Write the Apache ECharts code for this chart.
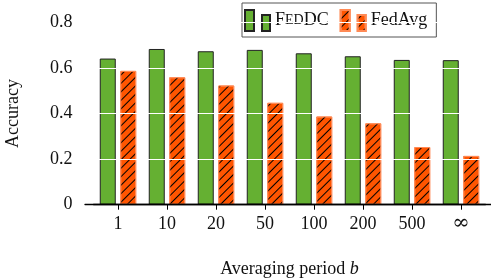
<!DOCTYPE html>
<html>
<head>
<meta charset="utf-8">
<script src="https://cdn.jsdelivr.net/npm/echarts@6/dist/echarts.min.js"></script>
<style>
  html, body { margin: 0; padding: 0; background: #fff; }
  #chart { width: 491px; height: 278px; }
</style>
</head>
<body>
<div id="chart"></div>
<script>
// averaging periods (x categories)
const periods = ['1', '10', '20', '50', '100', '200', '500', '∞'];
// accuracy per method
const feddc = [0.641, 0.683, 0.673, 0.679, 0.664, 0.651, 0.635, 0.634];
const fedavg = [0.587, 0.559, 0.523, 0.447, 0.387, 0.357, 0.253, 0.214];
const yTicks = [0, 0.2, 0.4, 0.6, 0.8];

const serif = 'Liberation Serif';
const green = '#65b032';
const orange = '#ff5500';

const chart = echarts.init(document.getElementById('chart'));

const option = {
  animation: false,
  textStyle: { fontFamily: serif },
  grid: [
    { left: 93.5, right: 5.5, top: 22.3, bottom: 73.3, outerBoundsMode: 'none' },
    // wider grid only used to draw the long x axis line
    { left: 85, right: 0, top: 22.3, bottom: 73.3, outerBoundsMode: 'none' },
  ],
  legend: {
    left: 242,
    top: 3,
    padding: [6, 9, 5, 2],
    itemGap: 11,
    itemWidth: 25,
    itemHeight: 21,
    borderColor: '#555',
    borderWidth: 1,
    textStyle: {
      fontFamily: serif,
      fontSize: 18,
      color: '#111',
      rich: {
        a: { fontFamily: serif, fontSize: 18, color: '#111' },
        s: { fontFamily: serif, fontSize: 14, color: '#111' },
      },
    },
    formatter: (name) => (name === 'FedDC' ? '{a|F}{s|ED}{a|DC}' : name),
    data: [
      { name: 'FedDC', icon: 'path://M0,0h9v21h-9zM17,5h8v16h-8z' },
      { name: 'FedAvg', icon: 'path://M0,0h9v21h-9zM17,5h8v16h-8z' },
    ],
  },
  xAxis: [
    {
      type: 'category',
      gridIndex: 0,
      data: periods,
      z: 10,
      axisLine: { show: true, lineStyle: { color: '#000', width: 1.3 } },
      axisTick: { show: true, alignWithLabel: true, interval: 0, length: 5, lineStyle: { color: '#000', width: 1 } },
      axisLabel: {
        interval: 0,
        fontFamily: serif,
        fontSize: 18,
        color: '#111',
        margin: 11,
        formatter: (v) => (v === '∞' ? '{inf|∞}' : v),
        rich: { inf: { fontFamily: 'DejaVu Serif', fontSize: 21, lineHeight: 16, color: '#111' } },
      },
      name: '{t|Averaging period }{i|b}',
      nameLocation: 'middle',
      nameGap: 56,
      nameTextStyle: {
        rich: {
          t: { fontFamily: serif, fontSize: 18, color: '#111' },
          i: { fontFamily: serif, fontSize: 18, fontStyle: 'italic', color: '#111' },
        },
      },
    },
    {
      type: 'value',
      gridIndex: 1,
      z: 10,
      axisLine: { show: true, onZero: false, lineStyle: { color: '#000', width: 1.3 } },
      axisTick: { show: false },
      axisLabel: { show: false },
      splitLine: { show: false },
    },
  ],
  yAxis: [
    {
      type: 'value',
      gridIndex: 0,
      min: 0,
      max: 0.8,
      interval: 0.2,
      z: 5,
      axisLine: { show: false },
      axisTick: { show: false },
      axisLabel: {
        fontFamily: serif,
        fontSize: 18,
        color: '#111',
        margin: 21,
        customValues: yTicks,
      },
      splitLine: { show: true, lineStyle: { color: '#fff', width: 1 } },
      name: 'Accuracy',
      nameLocation: 'middle',
      nameGap: 71,
      nameTextStyle: { fontFamily: serif, fontSize: 18, color: '#111' },
    },
    {
      type: 'value',
      gridIndex: 1,
      show: false,
    },
  ],
  series: [
    {
      name: 'FedDC',
      type: 'bar',
      data: feddc,
      barWidth: 16,
      barGap: '28%',
      itemStyle: { color: green, borderColor: '#222', borderWidth: 1 },
    },
    {
      name: 'FedAvg',
      type: 'bar',
      data: fedavg,
      barWidth: 16,
      itemStyle: {
        color: orange,
        borderColor: '#ff8a55',
        borderWidth: 1,
        decal: {
          symbol: 'rect',
          color: '#000',
          backgroundColor: null,
          dashArrayX: [1, 0],
          dashArrayY: [1, 5],
          rotation: -Math.PI / 4,
        },
      },
    },
  ],
};

chart.setOption(option);
</script>
</body>
</html>
